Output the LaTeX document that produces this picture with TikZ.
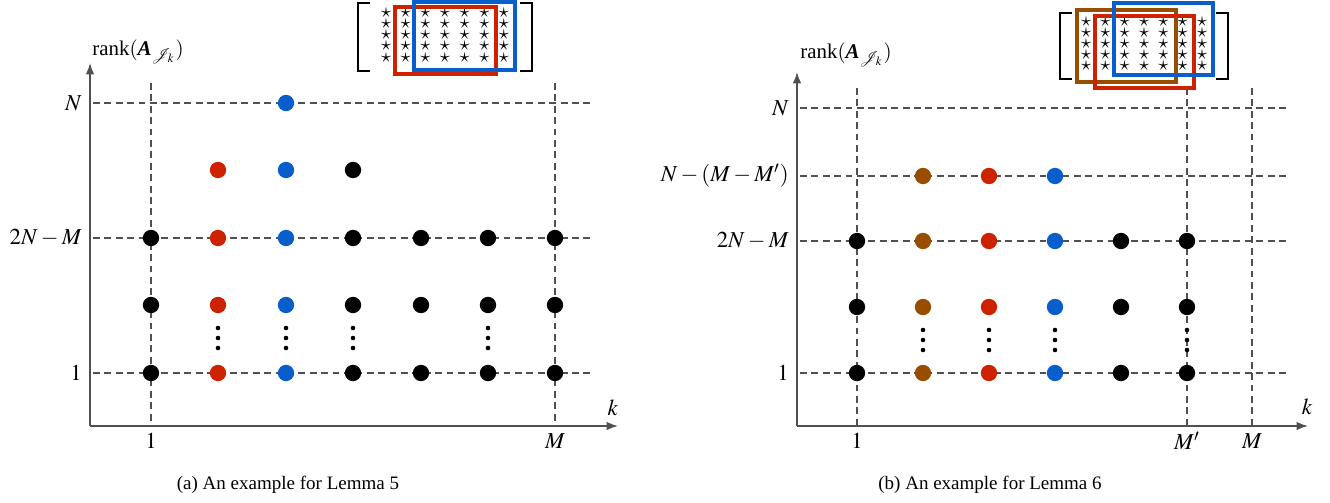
\documentclass[tikz,border=0pt]{standalone}
\usepackage{amsmath}
\usepackage{mathptmx}
\usepackage[no-math]{fontspec}
\setmainfont{Liberation Serif}
\usepackage{tikz}
\usetikzlibrary{positioning,arrows.meta,calc}
\definecolor{ptred}{HTML}{CC2200}
\definecolor{ptblue}{HTML}{0A5ECC}
\definecolor{ptbrown}{HTML}{994D00}
\definecolor{axgray}{HTML}{505050}
\newcommand{\rankA}{rank$(\mbox{\bfseries\itshape A}_{\mathcal{J}_k})$}

\begin{document}
\begin{tikzpicture}[
    x=0.526pt,y=0.526pt,
    font=\fontsize{12}{14}\selectfont,
    axis/.style={draw=axgray,line width=0.8pt,-{Latex[length=6pt,width=4.5pt]}},
    grid/.style={draw=axgray,line width=0.6pt,dash pattern=on 3.6pt off 2.4pt},
    dotk/.style={circle,fill=black,inner sep=0pt,minimum size=8.6pt},
    dotr/.style={dotk,fill=ptred},
    dotb/.style={dotk,fill=ptblue},
    dotn/.style={dotk,fill=ptbrown},
    entry/.style={inner sep=0pt,text height=3.2pt,text depth=0pt,
                  font=\fontsize{10.5}{10.5}\selectfont},
    sel/.style={line width=1.6pt,draw=#1},
    brk/.style={line width=1.1pt,draw=black},
    lbl/.style={inner sep=1pt},
    captxt/.style={font=\fontsize{10}{12}\selectfont}
  ]
  \useasboundingbox (0,0) rectangle (1330,502);

  % ---------------- panel (a)
  \coordinate (oa) at (90,76);
  \draw[axis] (oa) -- (90,439) coordinate (ya);
  \draw[axis] (oa) -- (618,76) coordinate (xa);
  \node[lbl,font=\fontsize{11}{13}\selectfont] (ranka) at (138,450) {\rankA};
  \node[lbl] (ka) at (613,94) {$k$};

  \draw[grid] (93,399) -- (592,399);
  \draw[grid] (93,264) -- (592,264);
  \draw[grid] (93,129) -- (592,129);
  \draw[grid] (151,419) -- (151,76);
  \draw[grid] (555,419) -- (555,76);

  \node[lbl,anchor=east] (aN)  at (84,399) {$N$};
  \node[lbl,anchor=east] (a2N) at (84,264) {$2N-M$};
  \node[lbl,anchor=east] (a1)  at (84,129) {$1$};
  \node[lbl] (ax1) at (151,61) {$1$};
  \node[lbl] (axM) at (555,61) {$M$};

  % dots
  \node[dotb] (a36) at (286,399) {};
  \node[dotr] (a25) at (218,332) {};
  \node[dotb] (a35) at (286,332) {};
  \node[dotk] (a45) at (353,332) {};
  \foreach \x/\s [count=\i] in {151/dotk,218/dotr,286/dotb,353/dotk,421/dotk,488/dotk,555/dotk}{
    \node[\s] (a\i c) at (\x,264) {};
    \node[\s] (a\i b) at (\x,197) {};
    \node[\s] (a\i a) at (\x,129) {};
  }
  \foreach \x in {218,286,353,488}
    \foreach \y in {174,164,154} \fill (\x,\y) circle (1.2pt);

  % matrix
  \foreach \i in {0,...,6}
    \foreach \j in {0,...,4}
      \node[entry] (ma\i\j) at (386+19.65*\i,488-11.25*\j) {$\star$};
  \draw[brk] (370,499) -- (358,499) -- (358,431) -- (370,431);
  \draw[brk] (520,499) -- (532,499) -- (532,431) -- (520,431);
  \draw[sel=ptred]  (395,428) rectangle (496,495);
  \draw[sel=ptblue] (414,432) rectangle (515,500);

  \node[captxt] (capa) at (288,17) {(a) An example for Lemma 5};

  % ---------------- panel (b)
  \coordinate (ob) at (797,76);
  \draw[axis] (ob) -- (797,430) coordinate (yb);
  \draw[axis] (ob) -- (1308,76) coordinate (xb);
  \node[lbl,font=\fontsize{11}{13}\selectfont] (rankb) at (846,447) {\rankA};
  \node[lbl] (kb) at (1307,95) {$k$};

  \draw[grid] (800,394) -- (1288,394);
  \draw[grid] (800,326) -- (1288,326);
  \draw[grid] (800,261) -- (1288,261);
  \draw[grid] (800,129) -- (1288,129);
  \draw[grid] (857,414) -- (857,76);
  \draw[grid] (1187,414) -- (1187,76);
  \draw[grid] (1252,414) -- (1252,76);

  \node[lbl,anchor=east] (bN)  at (791,394) {$N$};
  \node[lbl,anchor=east] (bNM) at (791,326) {$N-(M-M')$};
  \node[lbl,anchor=east] (b2N) at (791,261) {$2N-M$};
  \node[lbl,anchor=east] (b1)  at (791,129) {$1$};
  \node[lbl] (bx1)  at (857,61) {$1$};
  \node[lbl] (bxMp) at (1187,61) {$M'$};
  \node[lbl] (bxM)  at (1252,61) {$M$};

  % dots
  \node[dotn] (b24) at (923,326) {};
  \node[dotr] (b34) at (989,326) {};
  \node[dotb] (b44) at (1055,326) {};
  \foreach \x/\s [count=\i] in {857/dotk,923/dotn,989/dotr,1055/dotb,1121/dotk,1187/dotk}{
    \node[\s] (b\i c) at (\x,261) {};
    \node[\s] (b\i b) at (\x,195) {};
    \node[\s] (b\i a) at (\x,129) {};
  }
  \foreach \x in {923,989,1055,1187}
    \foreach \y in {172,162,152} \fill (\x,\y) circle (1.2pt);

  % matrix
  \foreach \i in {0,...,6}
    \foreach \j in {0,...,4}
      \node[entry] (mb\i\j) at (1086+19.33*\i,479-11*\j) {$\star$};
  \draw[brk] (1072,489) -- (1060,489) -- (1060,423) -- (1072,423);
  \draw[brk] (1216,489) -- (1228,489) -- (1228,423) -- (1216,423);
  \draw[sel=ptbrown] (1077,420) rectangle (1176,492);
  \draw[sel=ptred]   (1095,414) rectangle (1194,486);
  \draw[sel=ptblue]  (1114,427) rectangle (1213,499);

  \node[captxt] (capb) at (990,17) {(b) An example for Lemma 6};
\end{tikzpicture}
\end{document}
